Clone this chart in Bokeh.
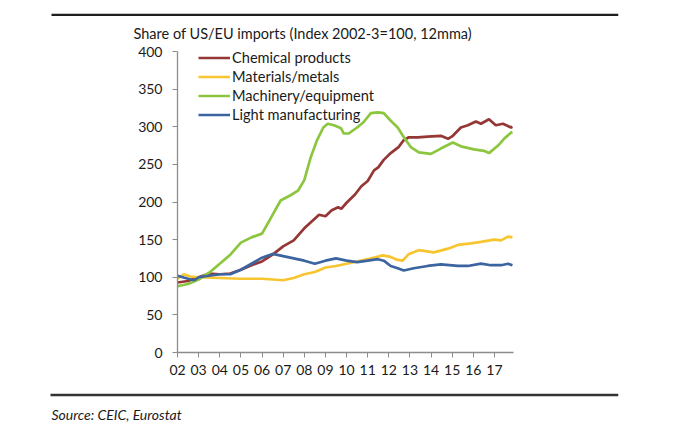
from bokeh.plotting import figure
from bokeh.models import Label, BoxAnnotation, Legend, LegendItem, FixedTicker, Range1d
from bokeh.embed import file_html
from bokeh.resources import INLINE

# ---- data ----
chem_x = [2002.0, 2002.5, 2003.0, 2003.5, 2004.0, 2004.5, 2005.0, 2005.5, 2006.0, 2006.5,
          2007.0, 2007.5, 2008.0, 2008.35, 2008.7, 2009.0, 2009.3, 2009.6, 2009.75, 2010.0,
          2010.4, 2010.7, 2011.0, 2011.3, 2011.5, 2011.76, 2012.09, 2012.46, 2012.7, 2012.95,
          2013.37, 2013.84, 2014.46, 2014.8, 2015.03, 2015.41, 2015.74, 2016.12, 2016.36,
          2016.74, 2017.06, 2017.4, 2017.78, 2017.85]
chem_y = [93, 95, 100, 105, 104, 105, 110, 116, 121, 130,
          141, 149, 165, 174, 183, 181, 189, 193, 191, 199,
          210, 221, 228, 242, 246, 256, 265, 273, 282, 286,
          286, 287, 288, 284, 288, 299, 302, 307, 304,
          310, 302, 304, 299, 300]

mat_x = [2002.0, 2002.3, 2002.6, 2003.0, 2004.0, 2005.0, 2006.0, 2006.5, 2007.0, 2007.5,
         2008.0, 2008.5, 2009.0, 2009.5, 2010.0, 2010.5, 2011.0, 2011.29, 2011.71, 2012.09,
         2012.42, 2012.66, 2012.95, 2013.42, 2014.13, 2014.8, 2015.27, 2015.88, 2016.36,
         2016.98, 2017.31, 2017.64, 2017.85]
mat_y = [98, 104, 101, 100, 99, 98, 98, 97, 96, 99,
         104, 107, 113, 115, 118, 121, 124, 126, 129, 127,
         123, 122, 131, 136, 133, 138, 143, 145, 147,
         150, 149, 154, 153]

mach_x = [2002.0, 2002.5, 2003.0, 2003.5, 2004.0, 2004.5, 2005.0, 2005.5, 2006.0, 2006.4,
          2006.88, 2007.35, 2007.7, 2008.0, 2008.3, 2008.6, 2008.9, 2009.11, 2009.4, 2009.74,
          2009.87, 2010.1, 2010.5, 2010.8, 2011.15, 2011.48, 2011.76, 2012.09, 2012.42,
          2012.71, 2013.04, 2013.42, 2013.99, 2014.46, 2015.03, 2015.41, 2016.03, 2016.5,
          2016.74, 2017.17, 2017.45, 2017.78, 2017.85]
mach_y = [88, 91, 97, 106, 118, 130, 146, 153, 158, 178,
          202, 209, 215, 229, 259, 282, 299, 304, 302, 298,
          291, 291, 299, 306, 318, 319, 318, 308, 299,
          286, 273, 266, 264, 271, 279, 274, 270, 268,
          265, 275, 284, 292, 293]

light_x = [2002.0, 2002.5, 2002.8, 2003.0, 2003.5, 2004.0, 2004.5, 2005.0, 2005.5, 2006.0,
           2006.5, 2007.0, 2007.5, 2008.0, 2008.5, 2009.0, 2009.5, 2010.0, 2010.5, 2011.0,
           2011.48, 2011.76, 2012.09, 2012.42, 2012.71, 2013.18, 2013.84, 2014.46, 2015.27,
           2015.74, 2016.36, 2016.83, 2017.31, 2017.64, 2017.85]
light_y = [102, 98, 96, 100, 102, 104, 104, 110, 118, 126,
           131, 128, 125, 122, 118, 122, 125, 122, 120, 122,
           124, 122, 115, 112, 109, 112, 115, 117, 115,
           115, 118, 116, 116, 118, 116]

series_names = ["Chemical products", "Materials/metals", "Machinery/equipment", "Light manufacturing"]
series_colors = ["#953735", "#F7C530", "#8CC63F", "#3B64A0"]

year_ticks = list(range(2002, 2018))
year_labels = [f"{y % 100:02d}" for y in year_ticks]
y_ticks = [0, 50, 100, 150, 200, 250, 300, 350, 400]

title_text = "Share of US/EU imports (Index 2002-3=100, 12mma)"
source_text = "Source: CEIC, Eurostat"

FONT = "Lato"

# ---- layout (canvas pixels) ----
W, H = 664, 425
AX_L, AX_R, AX_T, AX_B = 177, 513, 51, 352     # plotting area of the axes
X0, X1, Y0, Y1 = 2002, 2017.9, 0, 400
FR_L, FR_R, FR_T, FR_B = 40, 618, 8, 425       # bokeh frame (wider, holds title/rules/source)
kx = (X1 - X0) / (AX_R - AX_L)
ky = (Y1 - Y0) / (AX_B - AX_T)


def dx(px):
    return X0 + (px - AX_L) * kx


def dy(py):
    return Y0 + (AX_B - py) * ky


p = figure(width=W, height=H, output_backend="svg", toolbar_location=None,
           x_range=Range1d(dx(FR_L), dx(FR_R)), y_range=Range1d(dy(FR_B), dy(FR_T)),
           min_border_left=FR_L, min_border_right=W - FR_R,
           min_border_top=FR_T, min_border_bottom=H - FR_B)
p.outline_line_color = None
p.xgrid.visible = False
p.ygrid.visible = False
p.background_fill_color = "white"
p.border_fill_color = "white"

renderers = []
for xs, ys, c in zip([chem_x, mat_x, mach_x, light_x], [chem_y, mat_y, mach_y, light_y], series_colors):
    r = p.line(xs, ys, line_color=c, line_width=2.7)
    renderers.append(r)

# axes (placed inside the frame at fixed data locations)
for ax in (p.xaxis[0], p.yaxis[0]):
    ax.axis_line_color = "#8C8C8C"
    ax.axis_line_width = 1.3
    ax.major_tick_line_color = "#8C8C8C"
    ax.minor_tick_line_color = None
    ax.major_tick_in = 0
    ax.major_tick_out = 5
    ax.major_label_text_font = FONT
    ax.major_label_text_font_size = "14px"
    ax.major_label_text_color = "#1a1a1a"

xa = p.xaxis[0]
xa.fixed_location = Y0
xa.bounds = (X0, X1)
xa.ticker = FixedTicker(ticks=year_ticks)
xa.major_label_overrides = {t: l for t, l in zip(year_ticks, year_labels)}
xa.major_label_standoff = 7

ya = p.yaxis[0]
ya.fixed_location = X0
ya.bounds = (Y0, Y1)
ya.ticker = FixedTicker(ticks=y_ticks)
ya.major_label_standoff = 10

# legend (location = bottom-left corner, frame pixels)
items = [LegendItem(label=n, renderers=[r]) for n, r in zip(series_names, renderers)]
legend = Legend(items=items, orientation="vertical",
                glyph_width=32, glyph_height=19, label_height=19, label_standoff=2,
                spacing=0, padding=0, margin=0,
                label_text_font=FONT, label_text_font_size="14.6px", label_text_color="#1a1a1a",
                border_line_alpha=0, background_fill_alpha=0)
legend.location = (198 - FR_L, FR_B - 47.5 - 76)
p.add_layout(legend, "center")

# title, rules and source
p.add_layout(Label(x=dx(133), y=dy(33), text=title_text,
                   text_font=FONT, text_font_size="14.5px", text_color="#1a1a1a",
                   text_baseline="middle", text_align="left"))
p.add_layout(BoxAnnotation(left=dx(51), right=dx(618), top=dy(13.3), bottom=dy(15.5),
                           fill_color="#1e1e1e", fill_alpha=1, line_color=None))
p.add_layout(BoxAnnotation(left=dx(50), right=dx(618), top=dy(393.3), bottom=dy(395.8),
                           fill_color="#333333", fill_alpha=1, line_color=None))
p.add_layout(Label(x=dx(51), y=dy(414), text=source_text,
                   text_font=FONT, text_font_size="14px", text_font_style="italic",
                   text_color="#1a1a1a", text_baseline="middle", text_align="left"))

open("out.html", "w").write(file_html(p, INLINE))
